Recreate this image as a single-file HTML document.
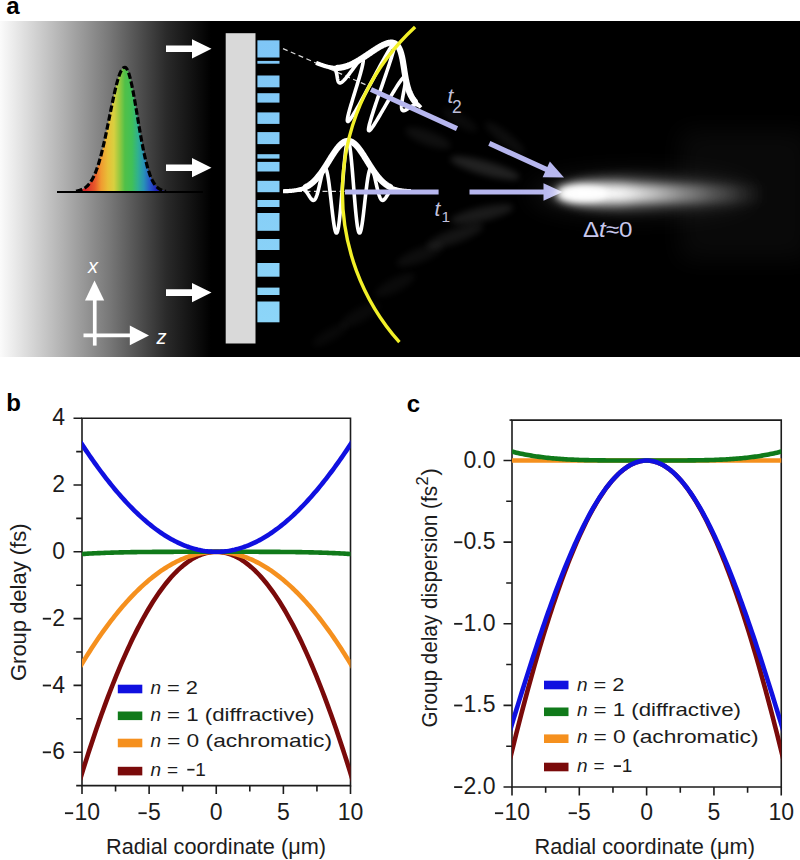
<!DOCTYPE html>
<html><head><meta charset="utf-8"><style>
html,body{margin:0;padding:0;background:#fff;overflow:hidden}
svg{display:block}
text{font-family:"Liberation Sans",sans-serif}
.tk{font-size:23px;fill:#1c1c1c}
.lg{font-size:19px;fill:#1c1c1c}
.al{font-size:22px;fill:#1c1c1c}
.pl{font-size:24px;font-weight:bold;fill:#000}
.lav{fill:#c0c0dc}
.lav2{fill:#c8c8ec}
</style></head><body>
<svg width="800" height="860" viewBox="0 0 800 860">
<defs>
<linearGradient id="bg" x1="0" x2="1" y1="0" y2="0">
<stop offset="0" stop-color="#fbfbfb"/><stop offset="0.25" stop-color="#bababa"/><stop offset="0.5" stop-color="#767676"/><stop offset="0.75" stop-color="#2a2a2a"/><stop offset="0.95" stop-color="#000"/>
</linearGradient>
<linearGradient id="rb" gradientUnits="userSpaceOnUse" x1="86" x2="157" y1="0" y2="0"><stop offset="0.000" stop-color="#d82828"/><stop offset="0.127" stop-color="#e85a2a"/><stop offset="0.211" stop-color="#f09a30"/><stop offset="0.310" stop-color="#e8c038"/><stop offset="0.394" stop-color="#d8d040"/><stop offset="0.479" stop-color="#90c840"/><stop offset="0.549" stop-color="#50c048"/><stop offset="0.648" stop-color="#40c058"/><stop offset="0.732" stop-color="#30b090"/><stop offset="0.817" stop-color="#2890b8"/><stop offset="0.901" stop-color="#2858c8"/><stop offset="1.000" stop-color="#2020b8"/></linearGradient>
<linearGradient id="bg2" gradientUnits="userSpaceOnUse" x1="0" x2="0" y1="40" y2="322"><stop offset="0" stop-color="#7fc6f6"/><stop offset="1" stop-color="#8cd5f8"/></linearGradient>
<radialGradient id="glow1" cx="0.5" cy="0.5" r="0.5">
<stop offset="0" stop-color="#fff" stop-opacity="1"/><stop offset="0.3" stop-color="#fff" stop-opacity="0.85"/><stop offset="0.6" stop-color="#fff" stop-opacity="0.35"/><stop offset="1" stop-color="#fff" stop-opacity="0"/>
</radialGradient>
<radialGradient id="glow2" cx="0.5" cy="0.5" r="0.5">
<stop offset="0" stop-color="#fff" stop-opacity="0.35"/><stop offset="0.5" stop-color="#fff" stop-opacity="0.12"/><stop offset="1" stop-color="#fff" stop-opacity="0"/>
</radialGradient>
<clipPath id="cb"><rect x="82" y="400" width="268.5" height="400"/></clipPath><clipPath id="cc"><rect x="512" y="400" width="269.25" height="400"/></clipPath>
<linearGradient id="gl" gradientUnits="userSpaceOnUse" x1="556" x2="765" y1="0" y2="0"><stop offset="0" stop-color="#fff" stop-opacity="0.9"/><stop offset="0.12" stop-color="#fff" stop-opacity="1"/><stop offset="0.3" stop-color="#fff" stop-opacity="0.92"/><stop offset="0.45" stop-color="#fff" stop-opacity="0.66"/><stop offset="0.6" stop-color="#fff" stop-opacity="0.4"/><stop offset="0.75" stop-color="#fff" stop-opacity="0.2"/><stop offset="0.88" stop-color="#fff" stop-opacity="0.08"/><stop offset="1" stop-color="#fff" stop-opacity="0"/></linearGradient>
<filter id="bl3" x="-50%" y="-100%" width="200%" height="300%"><feGaussianBlur stdDeviation="3"/></filter><filter id="bl4" x="-50%" y="-100%" width="200%" height="300%"><feGaussianBlur stdDeviation="4"/></filter><filter id="bl6" x="-50%" y="-100%" width="200%" height="300%"><feGaussianBlur stdDeviation="6"/></filter><filter id="bl12" x="-50%" y="-100%" width="200%" height="300%"><feGaussianBlur stdDeviation="12"/></filter>
<filter id="bl" x="-50%" y="-50%" width="200%" height="200%"><feGaussianBlur stdDeviation="6"/></filter>
</defs>
<rect x="0" y="21" width="800" height="336" fill="#000"/>
<rect x="0" y="21" width="222" height="336" fill="url(#bg)"/>
<ellipse cx="485" cy="168" rx="36" ry="7" fill="#fff" opacity="0.13" filter="url(#bl3)" transform="rotate(15.52 485 168)"/>
<ellipse cx="482" cy="214" rx="32" ry="7" fill="#fff" opacity="0.1" filter="url(#bl3)" transform="rotate(-12.72 482 214)"/>
<ellipse cx="455" cy="236" rx="30" ry="7" fill="#fff" opacity="0.08" filter="url(#bl3)" transform="rotate(-19.71 455 236)"/>
<ellipse cx="428" cy="138" rx="24" ry="7" fill="#fff" opacity="0.06" filter="url(#bl3)" transform="rotate(20.51 428 138)"/>
<ellipse cx="505" cy="138" rx="25" ry="6" fill="#fff" opacity="0.05" filter="url(#bl3)" transform="rotate(38.16 505 138)"/>
<ellipse cx="420" cy="255" rx="25" ry="7" fill="#fff" opacity="0.05" filter="url(#bl3)" transform="rotate(-21.8 420 255)"/>
<ellipse cx="395" cy="285" rx="22" ry="7" fill="#fff" opacity="0.04" filter="url(#bl3)" transform="rotate(-27.07 395 285)"/>
<ellipse cx="360" cy="315" rx="22" ry="7" fill="#fff" opacity="0.035" filter="url(#bl3)" transform="rotate(-29.57 360 315)"/>
<ellipse cx="330" cy="335" rx="20" ry="6" fill="#fff" opacity="0.03" filter="url(#bl3)" transform="rotate(-30.1 330 335)"/>
<ellipse cx="460" cy="120" rx="20" ry="6" fill="#fff" opacity="0.04" filter="url(#bl3)" transform="rotate(32.41 460 120)"/>
<polygon points="76,191.08 76.7,190.97 77.4,190.84 78.09,190.69 78.79,190.52 79.49,190.34 80.19,190.12 80.88,189.88 81.58,189.61 82.28,189.31 82.98,188.97 83.67,188.6 84.37,188.18 85.07,187.71 85.77,187.19 86.47,186.62 87.16,186 87.86,185.3 88.56,184.54 89.26,183.71 89.95,182.81 90.65,181.82 91.35,180.75 92.05,179.59 92.74,178.33 93.44,176.98 94.14,175.52 94.84,173.96 95.53,172.29 96.23,170.51 96.93,168.62 97.63,166.61 98.33,164.48 99.02,162.24 99.72,159.88 100.42,157.41 101.12,154.82 101.81,152.12 102.51,149.31 103.21,146.4 103.91,143.39 104.6,140.3 105.3,137.11 106,133.86 106.7,130.54 107.4,127.17 108.09,123.75 108.79,120.3 109.49,116.84 110.19,113.38 110.88,109.92 111.58,106.5 112.28,103.12 112.98,99.8 113.67,96.56 114.37,93.41 115.07,90.37 115.77,87.45 116.47,84.68 117.16,82.06 117.86,79.62 118.56,77.37 119.26,75.31 119.95,73.47 120.65,71.85 121.35,70.47 122.05,69.33 122.74,68.43 123.44,67.8 124.14,67.42 124.84,67.3 125.53,67.51 126.23,68.1 126.93,69.07 127.63,70.4 128.33,72.08 129.02,74.1 129.72,76.44 130.42,79.08 131.12,82 131.81,85.17 132.51,88.56 133.21,92.16 133.91,95.92 134.6,99.82 135.3,103.84 136,107.93 136.7,112.08 137.4,116.26 138.09,120.44 138.79,124.59 139.49,128.69 140.19,132.73 140.88,136.68 141.58,140.52 142.28,144.23 142.98,147.82 143.67,151.26 144.37,154.54 145.07,157.66 145.77,160.62 146.47,163.41 147.16,166.03 147.86,168.48 148.56,170.76 149.26,172.87 149.95,174.83 150.65,176.63 151.35,178.28 152.05,179.78 152.74,181.16 153.44,182.4 154.14,183.52 154.84,184.54 155.53,185.44 156.23,186.26 156.93,186.98 157.63,187.62 158.33,188.19 159.02,188.69 159.72,189.13 160.42,189.51 161.12,189.84 161.81,190.14 162.51,190.39 163.21,190.61 163.91,190.79 164.6,190.95 165.3,191.09 166,191.21" fill="url(#rb)"/>
<polyline points="76,191.08 76.7,190.97 77.4,190.84 78.09,190.69 78.79,190.52 79.49,190.34 80.19,190.12 80.88,189.88 81.58,189.61 82.28,189.31 82.98,188.97 83.67,188.6 84.37,188.18 85.07,187.71 85.77,187.19 86.47,186.62 87.16,186 87.86,185.3 88.56,184.54 89.26,183.71 89.95,182.81 90.65,181.82 91.35,180.75 92.05,179.59 92.74,178.33 93.44,176.98 94.14,175.52 94.84,173.96 95.53,172.29 96.23,170.51 96.93,168.62 97.63,166.61 98.33,164.48 99.02,162.24 99.72,159.88 100.42,157.41 101.12,154.82 101.81,152.12 102.51,149.31 103.21,146.4 103.91,143.39 104.6,140.3 105.3,137.11 106,133.86 106.7,130.54 107.4,127.17 108.09,123.75 108.79,120.3 109.49,116.84 110.19,113.38 110.88,109.92 111.58,106.5 112.28,103.12 112.98,99.8 113.67,96.56 114.37,93.41 115.07,90.37 115.77,87.45 116.47,84.68 117.16,82.06 117.86,79.62 118.56,77.37 119.26,75.31 119.95,73.47 120.65,71.85 121.35,70.47 122.05,69.33 122.74,68.43 123.44,67.8 124.14,67.42 124.84,67.3 125.53,67.51 126.23,68.1 126.93,69.07 127.63,70.4 128.33,72.08 129.02,74.1 129.72,76.44 130.42,79.08 131.12,82 131.81,85.17 132.51,88.56 133.21,92.16 133.91,95.92 134.6,99.82 135.3,103.84 136,107.93 136.7,112.08 137.4,116.26 138.09,120.44 138.79,124.59 139.49,128.69 140.19,132.73 140.88,136.68 141.58,140.52 142.28,144.23 142.98,147.82 143.67,151.26 144.37,154.54 145.07,157.66 145.77,160.62 146.47,163.41 147.16,166.03 147.86,168.48 148.56,170.76 149.26,172.87 149.95,174.83 150.65,176.63 151.35,178.28 152.05,179.78 152.74,181.16 153.44,182.4 154.14,183.52 154.84,184.54 155.53,185.44 156.23,186.26 156.93,186.98 157.63,187.62 158.33,188.19 159.02,188.69 159.72,189.13 160.42,189.51 161.12,189.84 161.81,190.14 162.51,190.39 163.21,190.61 163.91,190.79 164.6,190.95 165.3,191.09 166,191.21" fill="none" stroke="#000" stroke-width="3.2" stroke-dasharray="6.5 2.6"/>
<path d="M57 192H203" stroke="#000" stroke-width="2"/>
<path d="M166 45.5H192V39.2L211.5 48.8L192 58.4V52.1H166 Z" fill="#fff"/>
<path d="M166 164.4H192V158.1L211.5 167.7L192 177.3V171H166 Z" fill="#fff"/>
<path d="M166 289.3H192V283L211.5 292.6L192 302.2V295.9H166 Z" fill="#fff"/>
<rect x="225.7" y="33.2" width="29.8" height="310.3" fill="#d9d9d9"/>
<rect x="257.4" y="40.3" width="22.1" height="17.2" fill="url(#bg2)"/>
<rect x="257.4" y="60.9" width="22.1" height="2.8" fill="url(#bg2)"/>
<rect x="257.4" y="75.5" width="22.1" height="11.8" fill="url(#bg2)"/>
<rect x="257.4" y="93.2" width="22.1" height="9.4" fill="url(#bg2)"/>
<rect x="257.4" y="112.4" width="22.1" height="11.5" fill="url(#bg2)"/>
<rect x="257.4" y="132.1" width="22.1" height="12" fill="url(#bg2)"/>
<rect x="257.4" y="154.2" width="22.1" height="4.4" fill="url(#bg2)"/>
<rect x="257.4" y="161.9" width="22.1" height="9.6" fill="url(#bg2)"/>
<rect x="257.4" y="180.8" width="22.1" height="11.4" fill="url(#bg2)"/>
<rect x="257.4" y="200" width="22.1" height="7" fill="url(#bg2)"/>
<rect x="257.4" y="213" width="22.1" height="17.8" fill="url(#bg2)"/>
<rect x="257.4" y="239" width="22.1" height="11" fill="url(#bg2)"/>
<rect x="257.4" y="263" width="22.1" height="13.7" fill="url(#bg2)"/>
<rect x="257.4" y="287.6" width="22.1" height="7.4" fill="url(#bg2)"/>
<rect x="257.4" y="301.5" width="22.1" height="20.8" fill="url(#bg2)"/>
<g transform="translate(283 48.6) rotate(23.6)"><path d="M0 0H92" stroke="#d8d8d8" stroke-width="1.2" stroke-dasharray="5 3.5"/><polyline points="50,-1.34 50.25,-1.44 50.5,-1.54 50.75,-1.63 51,-1.72 51.25,-1.81 51.5,-1.89 51.75,-1.97 52.01,-2.04 52.26,-2.1 52.51,-2.16 52.76,-2.21 53.01,-2.24 53.26,-2.27 53.51,-2.29 53.76,-2.29 54.01,-2.29 54.26,-2.27 54.51,-2.23 54.76,-2.18 55.01,-2.11 55.26,-2.03 55.51,-1.93 55.76,-1.82 56.02,-1.69 56.27,-1.54 56.52,-1.37 56.77,-1.18 57.02,-0.97 57.27,-0.75 57.52,-0.51 57.77,-0.25 58.02,0.02 58.27,0.31 58.52,0.62 58.77,0.94 59.02,1.28 59.27,1.63 59.52,1.99 59.77,2.36 60.03,2.74 60.28,3.12 60.53,3.51 60.78,3.91 61.03,4.3 61.28,4.69 61.53,5.09 61.78,5.47 62.03,5.85 62.28,6.21 62.53,6.56 62.78,6.9 63.03,7.22 63.28,7.52 63.53,7.79 63.78,8.04 64.04,8.25 64.29,8.44 64.54,8.59 64.79,8.7 65.04,8.77 65.29,8.8 65.54,8.79 65.79,8.73 66.04,8.62 66.29,8.47 66.54,8.26 66.79,8 67.04,7.69 67.29,7.32 67.54,6.9 67.79,6.42 68.05,5.89 68.3,5.31 68.55,4.67 68.8,3.98 69.05,3.24 69.3,2.45 69.55,1.61 69.8,0.73 70.05,-0.19 70.3,-1.15 70.55,-2.14 70.8,-3.17 71.05,-4.22 71.3,-5.29 71.55,-6.39 71.8,-7.49 72.06,-8.6 72.31,-9.71 72.56,-10.82 72.81,-11.92 73.06,-13 73.31,-14.06 73.56,-15.09 73.81,-16.08 74.06,-17.03 74.31,-17.94 74.56,-18.78 74.81,-19.57 75.06,-20.29 75.31,-20.94 75.56,-21.51 75.81,-21.99 76.07,-22.38 76.32,-22.68 76.57,-22.88 76.82,-22.98 77.07,-22.97 77.32,-22.84 77.57,-22.61 77.82,-22.25 78.07,-21.78 78.32,-21.2 78.57,-20.49 78.82,-19.66 79.07,-18.72 79.32,-17.65 79.57,-16.48 79.82,-15.19 80.08,-13.79 80.33,-12.29 80.58,-10.69 80.83,-8.99 81.08,-7.21 81.33,-5.34 81.58,-3.4 81.83,-1.4 82.08,0.67 82.33,2.78 82.58,4.93 82.83,7.11 83.08,9.31 83.33,11.52 83.58,13.73 83.83,15.93 84.09,18.1 84.34,20.23 84.59,22.32 84.84,24.35 85.09,26.31 85.34,28.19 85.59,29.97 85.84,31.66 86.09,33.23 86.34,34.68 86.59,35.99 86.84,37.17 87.09,38.2 87.34,39.07 87.59,39.77 87.84,40.31 88.1,40.67 88.35,40.84 88.6,40.84 88.85,40.65 89.1,40.26 89.35,39.69 89.6,38.93 89.85,37.98 90.1,36.85 90.35,35.53 90.6,34.03 90.85,32.35 91.1,30.51 91.35,28.51 91.6,26.35 91.85,24.05 92.11,21.61 92.36,19.05 92.61,16.37 92.86,13.59 93.11,10.73 93.36,7.79 93.61,4.78 93.86,1.73 94.11,-1.36 94.36,-4.47 94.61,-7.58 94.86,-10.68 95.11,-13.75 95.36,-16.79 95.61,-19.77 95.86,-22.67 96.12,-25.49 96.37,-28.22 96.62,-30.83 96.87,-33.31 97.12,-35.65 97.37,-37.85 97.62,-39.88 97.87,-41.74 98.12,-43.41 98.37,-44.9 98.62,-46.19 98.87,-47.27 99.12,-48.15 99.37,-48.81 99.62,-49.25 99.87,-49.47 100.13,-49.47 100.38,-49.25 100.63,-48.81 100.88,-48.15 101.13,-47.27 101.38,-46.19 101.63,-44.9 101.88,-43.41 102.13,-41.74 102.38,-39.88 102.63,-37.85 102.88,-35.65 103.13,-33.31 103.38,-30.83 103.63,-28.22 103.88,-25.49 104.14,-22.67 104.39,-19.77 104.64,-16.79 104.89,-13.75 105.14,-10.68 105.39,-7.58 105.64,-4.47 105.89,-1.36 106.14,1.73 106.39,4.78 106.64,7.79 106.89,10.73 107.14,13.59 107.39,16.37 107.64,19.05 107.89,21.61 108.15,24.05 108.4,26.35 108.65,28.51 108.9,30.51 109.15,32.35 109.4,34.03 109.65,35.53 109.9,36.85 110.15,37.98 110.4,38.93 110.65,39.69 110.9,40.26 111.15,40.65 111.4,40.84 111.65,40.84 111.9,40.67 112.16,40.31 112.41,39.77 112.66,39.07 112.91,38.2 113.16,37.17 113.41,35.99 113.66,34.68 113.91,33.23 114.16,31.66 114.41,29.97 114.66,28.19 114.91,26.31 115.16,24.35 115.41,22.32 115.66,20.23 115.91,18.1 116.17,15.93 116.42,13.73 116.67,11.52 116.92,9.31 117.17,7.11 117.42,4.93 117.67,2.78 117.92,0.67 118.17,-1.4 118.42,-3.4 118.67,-5.34 118.92,-7.21 119.17,-8.99 119.42,-10.69 119.67,-12.29 119.92,-13.79 120.18,-15.19 120.43,-16.48 120.68,-17.65 120.93,-18.72 121.18,-19.66 121.43,-20.49 121.68,-21.2 121.93,-21.78 122.18,-22.25 122.43,-22.61 122.68,-22.84 122.93,-22.97 123.18,-22.98 123.43,-22.88 123.68,-22.68 123.93,-22.38 124.19,-21.99 124.44,-21.51 124.69,-20.94 124.94,-20.29 125.19,-19.57 125.44,-18.78 125.69,-17.94 125.94,-17.03 126.19,-16.08 126.44,-15.09 126.69,-14.06 126.94,-13 127.19,-11.92 127.44,-10.82 127.69,-9.71 127.94,-8.6 128.2,-7.49 128.45,-6.39 128.7,-5.29 128.95,-4.22 129.2,-3.17 129.45,-2.14 129.7,-1.15 129.95,-0.19 130.2,0.73 130.45,1.61 130.7,2.45 130.95,3.24 131.2,3.98 131.45,4.67 131.7,5.31 131.95,5.89 132.21,6.42 132.46,6.9 132.71,7.32 132.96,7.69 133.21,8 133.46,8.26 133.71,8.47 133.96,8.62 134.21,8.73 134.46,8.79 134.71,8.8 134.96,8.77 135.21,8.7 135.46,8.59 135.71,8.44 135.96,8.25 136.22,8.04 136.47,7.79 136.72,7.52 136.97,7.22 137.22,6.9 137.47,6.56 137.72,6.21 137.97,5.85 138.22,5.47 138.47,5.09 138.72,4.69 138.97,4.3 139.22,3.91 139.47,3.51 139.72,3.12 139.97,2.74 140.23,2.36 140.48,1.99 140.73,1.63 140.98,1.28 141.23,0.94 141.48,0.62 141.73,0.31 141.98,0.02 142.23,-0.25 142.48,-0.51 142.73,-0.75 142.98,-0.97 143.23,-1.18 143.48,-1.37 143.73,-1.54 143.98,-1.69 144.24,-1.82 144.49,-1.93 144.74,-2.03 144.99,-2.11 145.24,-2.18 145.49,-2.23 145.74,-2.27 145.99,-2.29 146.24,-2.29 146.49,-2.29 146.74,-2.27 146.99,-2.24 147.24,-2.21 147.49,-2.16 147.74,-2.1 147.99,-2.04 148.25,-1.97 148.5,-1.89 148.75,-1.81 149,-1.72 149.25,-1.63 149.5,-1.54 149.75,-1.44 150,-1.34" fill="none" stroke="#fff" stroke-width="3.6" stroke-linejoin="round"/><polyline points="36,-0.17 36.37,-0.18 36.75,-0.19 37.12,-0.21 37.5,-0.22 37.87,-0.24 38.25,-0.25 38.62,-0.27 39,-0.29 39.37,-0.3 39.75,-0.32 40.12,-0.35 40.49,-0.37 40.87,-0.39 41.24,-0.41 41.62,-0.44 41.99,-0.47 42.37,-0.5 42.74,-0.53 43.12,-0.56 43.49,-0.59 43.87,-0.63 44.24,-0.67 44.62,-0.71 44.99,-0.75 45.36,-0.79 45.74,-0.84 46.11,-0.89 46.49,-0.94 46.86,-0.99 47.24,-1.05 47.61,-1.11 47.99,-1.17 48.36,-1.23 48.74,-1.3 49.11,-1.37 49.48,-1.44 49.86,-1.52 50.23,-1.6 50.61,-1.69 50.98,-1.78 51.36,-1.87 51.73,-1.96 52.11,-2.06 52.48,-2.17 52.86,-2.28 53.23,-2.39 53.61,-2.51 53.98,-2.63 54.35,-2.76 54.73,-2.9 55.1,-3.03 55.48,-3.18 55.85,-3.33 56.23,-3.48 56.6,-3.65 56.98,-3.81 57.35,-3.99 57.73,-4.17 58.1,-4.35 58.47,-4.54 58.85,-4.74 59.22,-4.95 59.6,-5.16 59.97,-5.38 60.35,-5.61 60.72,-5.84 61.1,-6.08 61.47,-6.33 61.85,-6.59 62.22,-6.86 62.6,-7.13 62.97,-7.41 63.34,-7.7 63.72,-8 64.09,-8.3 64.47,-8.61 64.84,-8.94 65.22,-9.27 65.59,-9.6 65.97,-9.95 66.34,-10.31 66.72,-10.67 67.09,-11.04 67.46,-11.43 67.84,-11.82 68.21,-12.21 68.59,-12.62 68.96,-13.04 69.34,-13.46 69.71,-13.89 70.09,-14.33 70.46,-14.78 70.84,-15.24 71.21,-15.71 71.59,-16.18 71.96,-16.66 72.33,-17.15 72.71,-17.64 73.08,-18.15 73.46,-18.66 73.83,-19.17 74.21,-19.7 74.58,-20.23 74.96,-20.77 75.33,-21.31 75.71,-21.86 76.08,-22.41 76.45,-22.97 76.83,-23.53 77.2,-24.1 77.58,-24.67 77.95,-25.25 78.33,-25.83 78.7,-26.41 79.08,-26.99 79.45,-27.58 79.83,-28.17 80.2,-28.76 80.58,-29.35 80.95,-29.94 81.32,-30.54 81.7,-31.13 82.07,-31.72 82.45,-32.31 82.82,-32.89 83.2,-33.48 83.57,-34.06 83.95,-34.64 84.32,-35.22 84.7,-35.79 85.07,-36.35 85.44,-36.91 85.82,-37.47 86.19,-38.01 86.57,-38.56 86.94,-39.09 87.32,-39.61 87.69,-40.13 88.07,-40.64 88.44,-41.14 88.82,-41.63 89.19,-42.1 89.57,-42.57 89.94,-43.03 90.31,-43.47 90.69,-43.9 91.06,-44.32 91.44,-44.72 91.81,-45.11 92.19,-45.49 92.56,-45.85 92.94,-46.19 93.31,-46.53 93.69,-46.84 94.06,-47.14 94.43,-47.42 94.81,-47.69 95.18,-47.94 95.56,-48.17 95.93,-48.38 96.31,-48.57 96.68,-48.75 97.06,-48.91 97.43,-49.05 97.81,-49.17 98.18,-49.27 98.56,-49.36 98.93,-49.42 99.3,-49.47 99.68,-49.49 100.05,-49.5 100.43,-49.49 100.8,-49.46 101.18,-49.41 101.55,-49.34 101.93,-49.25 102.3,-49.14 102.68,-49.01 103.05,-48.87 103.42,-48.7 103.8,-48.52 104.17,-48.32 104.55,-48.1 104.92,-47.87 105.3,-47.61 105.67,-47.34 106.05,-47.06 106.42,-46.75 106.8,-46.43 107.17,-46.1 107.55,-45.75 107.92,-45.38 108.29,-45 108.67,-44.61 109.04,-44.2 109.42,-43.78 109.79,-43.34 110.17,-42.9 110.54,-42.44 110.92,-41.97 111.29,-41.49 111.67,-41 112.04,-40.5 112.41,-39.98 112.79,-39.47 113.16,-38.94 113.54,-38.4 113.91,-37.86 114.29,-37.31 114.66,-36.75 115.04,-36.19 115.41,-35.62 115.79,-35.05 116.16,-34.48 116.54,-33.9 116.91,-33.31 117.28,-32.73 117.66,-32.14 118.03,-31.55 118.41,-30.96 118.78,-30.37 119.16,-29.77 119.53,-29.18 119.91,-28.59 120.28,-28 120.66,-27.41 121.03,-26.83 121.4,-26.24 121.78,-25.66 122.15,-25.08 122.53,-24.51 122.9,-23.94 123.28,-23.37 123.65,-22.81 124.03,-22.25 124.4,-21.7 124.78,-21.15 125.15,-20.61 125.53,-20.08 125.9,-19.55 126.27,-19.03 126.65,-18.51 127.02,-18 127.4,-17.5 127.77,-17.01 128.15,-16.52 128.52,-16.04 128.9,-15.57 129.27,-15.11 129.65,-14.65 130.02,-14.21 130.39,-13.77 130.77,-13.34 131.14,-12.92 131.52,-12.5 131.89,-12.1 132.27,-11.7 132.64,-11.32 133.02,-10.94 133.39,-10.57 133.77,-10.2 134.14,-9.85 134.52,-9.51 134.89,-9.17 135.26,-8.84 135.64,-8.52 136.01,-8.21 136.39,-7.91 136.76,-7.61 137.14,-7.33 137.51,-7.05 137.89,-6.78 138.26,-6.52 138.64,-6.26 139.01,-6.01 139.38,-5.78 139.76,-5.54 140.13,-5.32 140.51,-5.1 140.88,-4.89 141.26,-4.69 141.63,-4.49 142.01,-4.3 142.38,-4.11 142.76,-3.94 143.13,-3.76 143.51,-3.6 143.88,-3.44 144.25,-3.29 144.63,-3.14 145,-2.99 145.38,-2.86 145.75,-2.73 146.13,-2.6 146.5,-2.48 146.88,-2.36 147.25,-2.25 147.63,-2.14 148,-2.04" fill="none" stroke="#fff" stroke-width="4.2" stroke-linejoin="round" stroke-linecap="butt"/><polyline points="58,-4.3 58.42,-4.52 58.84,-4.74 59.27,-4.97 59.69,-5.21 60.11,-5.46 60.53,-5.72 60.95,-5.99 61.38,-6.27 61.8,-6.56 62.22,-6.86 62.64,-7.16 63.07,-7.48 63.49,-7.81 63.91,-8.15 64.33,-8.5 64.75,-8.86 65.18,-9.23 65.6,-9.61 66.02,-10 66.44,-10.4 66.86,-10.82 67.29,-11.24 67.71,-11.68 68.13,-12.12 68.55,-12.58 68.97,-13.05 69.4,-13.53 69.82,-14.02 70.24,-14.52 70.66,-15.03 71.09,-15.55 71.51,-16.08 71.93,-16.62 72.35,-17.17 72.77,-17.73 73.2,-18.3 73.62,-18.88 74.04,-19.46 74.46,-20.06 74.88,-20.66 75.31,-21.27 75.73,-21.89 76.15,-22.51 76.57,-23.15 76.99,-23.78 77.42,-24.43 77.84,-25.07 78.26,-25.72 78.68,-26.38 79.11,-27.04 79.53,-27.7 79.95,-28.37 80.37,-29.03 80.79,-29.7 81.22,-30.36 81.64,-31.03 82.06,-31.7 82.48,-32.36 82.9,-33.02 83.33,-33.68 83.75,-34.34 84.17,-34.99 84.59,-35.63 85.02,-36.27 85.44,-36.9 85.86,-37.53 86.28,-38.14 86.7,-38.75 87.13,-39.35 87.55,-39.93 87.97,-40.51 88.39,-41.07 88.81,-41.62 89.24,-42.16 89.66,-42.68 90.08,-43.19 90.5,-43.69 90.92,-44.16 91.35,-44.62 91.77,-45.07 92.19,-45.49 92.61,-45.9 93.04,-46.28 93.46,-46.65 93.88,-47 94.3,-47.32 94.72,-47.63 95.15,-47.91 95.57,-48.17 95.99,-48.41 96.41,-48.63 96.83,-48.82 97.26,-48.99 97.68,-49.13 98.1,-49.25 98.52,-49.35 98.94,-49.42 99.37,-49.47 99.79,-49.5 100.21,-49.5 100.63,-49.47 101.06,-49.42 101.48,-49.35 101.9,-49.25 102.32,-49.13 102.74,-48.99 103.17,-48.82 103.59,-48.63 104.01,-48.41 104.43,-48.17 104.85,-47.91 105.28,-47.63 105.7,-47.32 106.12,-47 106.54,-46.65 106.96,-46.28 107.39,-45.9 107.81,-45.49 108.23,-45.07 108.65,-44.62 109.08,-44.16 109.5,-43.69 109.92,-43.19 110.34,-42.68 110.76,-42.16 111.19,-41.62 111.61,-41.07 112.03,-40.51 112.45,-39.93 112.87,-39.35 113.3,-38.75 113.72,-38.14 114.14,-37.53 114.56,-36.9 114.98,-36.27 115.41,-35.63 115.83,-34.99 116.25,-34.34 116.67,-33.68 117.1,-33.02 117.52,-32.36 117.94,-31.7 118.36,-31.03 118.78,-30.36 119.21,-29.7 119.63,-29.03 120.05,-28.37 120.47,-27.7 120.89,-27.04 121.32,-26.38 121.74,-25.72 122.16,-25.07 122.58,-24.43 123.01,-23.78 123.43,-23.15 123.85,-22.51 124.27,-21.89 124.69,-21.27 125.12,-20.66 125.54,-20.06 125.96,-19.46 126.38,-18.88 126.8,-18.3 127.23,-17.73 127.65,-17.17 128.07,-16.62 128.49,-16.08 128.91,-15.55 129.34,-15.03 129.76,-14.52 130.18,-14.02 130.6,-13.53 131.03,-13.05 131.45,-12.58 131.87,-12.12 132.29,-11.68 132.71,-11.24 133.14,-10.82 133.56,-10.4 133.98,-10 134.4,-9.61 134.82,-9.23 135.25,-8.86 135.67,-8.5 136.09,-8.15 136.51,-7.81 136.93,-7.48 137.36,-7.16 137.78,-6.86 138.2,-6.56 138.62,-6.27 139.05,-5.99 139.47,-5.72 139.89,-5.46 140.31,-5.21 140.73,-4.97 141.16,-4.74 141.58,-4.52 142,-4.3" fill="none" stroke="#fff" stroke-width="6.2" stroke-linejoin="round" stroke-linecap="round"/></g>
<g transform="translate(283 191.4) rotate(0)"><path d="M14 0H62" stroke="#d8d8d8" stroke-width="1.2" stroke-dasharray="5 3.5"/><polyline points="15,-1.37 15.25,-1.47 15.5,-1.57 15.75,-1.66 16,-1.75 16.25,-1.84 16.5,-1.93 16.75,-2.01 17.01,-2.08 17.26,-2.14 17.51,-2.2 17.76,-2.25 18.01,-2.29 18.26,-2.32 18.51,-2.34 18.76,-2.34 19.01,-2.33 19.26,-2.31 19.51,-2.28 19.76,-2.22 20.01,-2.16 20.26,-2.07 20.51,-1.97 20.76,-1.86 21.02,-1.72 21.27,-1.57 21.52,-1.39 21.77,-1.2 22.02,-0.99 22.27,-0.77 22.52,-0.52 22.77,-0.26 23.02,0.02 23.27,0.32 23.52,0.63 23.77,0.96 24.02,1.31 24.27,1.66 24.52,2.03 24.77,2.41 25.03,2.79 25.28,3.19 25.53,3.58 25.78,3.99 26.03,4.39 26.28,4.79 26.53,5.19 26.78,5.58 27.03,5.96 27.28,6.34 27.53,6.7 27.78,7.04 28.03,7.37 28.28,7.67 28.53,7.95 28.78,8.2 29.04,8.42 29.29,8.61 29.54,8.76 29.79,8.87 30.04,8.95 30.29,8.98 30.54,8.97 30.79,8.91 31.04,8.8 31.29,8.64 31.54,8.43 31.79,8.16 32.04,7.84 32.29,7.47 32.54,7.04 32.79,6.55 33.05,6.01 33.3,5.42 33.55,4.77 33.8,4.06 34.05,3.31 34.3,2.5 34.55,1.65 34.8,0.75 35.05,-0.19 35.3,-1.17 35.55,-2.19 35.8,-3.23 36.05,-4.31 36.3,-5.4 36.55,-6.51 36.8,-7.64 37.06,-8.77 37.31,-9.91 37.56,-11.04 37.81,-12.16 38.06,-13.26 38.31,-14.34 38.56,-15.39 38.81,-16.41 39.06,-17.38 39.31,-18.3 39.56,-19.16 39.81,-19.97 40.06,-20.7 40.31,-21.36 40.56,-21.94 40.81,-22.44 41.07,-22.84 41.32,-23.14 41.57,-23.34 41.82,-23.44 42.07,-23.43 42.32,-23.3 42.57,-23.06 42.82,-22.7 43.07,-22.22 43.32,-21.62 43.57,-20.9 43.82,-20.06 44.07,-19.09 44.32,-18.01 44.57,-16.81 44.82,-15.5 45.08,-14.07 45.33,-12.54 45.58,-10.9 45.83,-9.17 46.08,-7.35 46.33,-5.45 46.58,-3.47 46.83,-1.43 47.08,0.68 47.33,2.83 47.58,5.03 47.83,7.26 48.08,9.5 48.33,11.76 48.58,14.01 48.83,16.25 49.09,18.46 49.34,20.64 49.59,22.77 49.84,24.84 50.09,26.84 50.34,28.76 50.59,30.58 50.84,32.3 51.09,33.9 51.34,35.38 51.59,36.72 51.84,37.92 52.09,38.97 52.34,39.86 52.59,40.57 52.84,41.12 53.1,41.49 53.35,41.67 53.6,41.66 53.85,41.47 54.1,41.08 54.35,40.5 54.6,39.72 54.85,38.75 55.1,37.59 55.35,36.24 55.6,34.72 55.85,33.01 56.1,31.13 56.35,29.08 56.6,26.88 56.85,24.53 57.11,22.05 57.36,19.43 57.61,16.7 57.86,13.87 58.11,10.94 58.36,7.94 58.61,4.88 58.86,1.76 59.11,-1.39 59.36,-4.56 59.61,-7.73 59.86,-10.9 60.11,-14.03 60.36,-17.13 60.61,-20.17 60.86,-23.13 61.12,-26.01 61.37,-28.79 61.62,-31.45 61.87,-33.98 62.12,-36.37 62.37,-38.61 62.62,-40.68 62.87,-42.58 63.12,-44.29 63.37,-45.81 63.62,-47.12 63.87,-48.23 64.12,-49.12 64.37,-49.8 64.62,-50.25 64.87,-50.47 65.13,-50.47 65.38,-50.25 65.63,-49.8 65.88,-49.12 66.13,-48.23 66.38,-47.12 66.63,-45.81 66.88,-44.29 67.13,-42.58 67.38,-40.68 67.63,-38.61 67.88,-36.37 68.13,-33.98 68.38,-31.45 68.63,-28.79 68.88,-26.01 69.14,-23.13 69.39,-20.17 69.64,-17.13 69.89,-14.03 70.14,-10.9 70.39,-7.73 70.64,-4.56 70.89,-1.39 71.14,1.76 71.39,4.88 71.64,7.94 71.89,10.94 72.14,13.87 72.39,16.7 72.64,19.43 72.89,22.05 73.15,24.53 73.4,26.88 73.65,29.08 73.9,31.13 74.15,33.01 74.4,34.72 74.65,36.24 74.9,37.59 75.15,38.75 75.4,39.72 75.65,40.5 75.9,41.08 76.15,41.47 76.4,41.66 76.65,41.67 76.9,41.49 77.16,41.12 77.41,40.57 77.66,39.86 77.91,38.97 78.16,37.92 78.41,36.72 78.66,35.38 78.91,33.9 79.16,32.3 79.41,30.58 79.66,28.76 79.91,26.84 80.16,24.84 80.41,22.77 80.66,20.64 80.91,18.46 81.17,16.25 81.42,14.01 81.67,11.76 81.92,9.5 82.17,7.26 82.42,5.03 82.67,2.83 82.92,0.68 83.17,-1.43 83.42,-3.47 83.67,-5.45 83.92,-7.35 84.17,-9.17 84.42,-10.9 84.67,-12.54 84.92,-14.07 85.18,-15.5 85.43,-16.81 85.68,-18.01 85.93,-19.09 86.18,-20.06 86.43,-20.9 86.68,-21.62 86.93,-22.22 87.18,-22.7 87.43,-23.06 87.68,-23.3 87.93,-23.43 88.18,-23.44 88.43,-23.34 88.68,-23.14 88.93,-22.84 89.19,-22.44 89.44,-21.94 89.69,-21.36 89.94,-20.7 90.19,-19.97 90.44,-19.16 90.69,-18.3 90.94,-17.38 91.19,-16.41 91.44,-15.39 91.69,-14.34 91.94,-13.26 92.19,-12.16 92.44,-11.04 92.69,-9.91 92.94,-8.77 93.2,-7.64 93.45,-6.51 93.7,-5.4 93.95,-4.31 94.2,-3.23 94.45,-2.19 94.7,-1.17 94.95,-0.19 95.2,0.75 95.45,1.65 95.7,2.5 95.95,3.31 96.2,4.06 96.45,4.77 96.7,5.42 96.95,6.01 97.21,6.55 97.46,7.04 97.71,7.47 97.96,7.84 98.21,8.16 98.46,8.43 98.71,8.64 98.96,8.8 99.21,8.91 99.46,8.97 99.71,8.98 99.96,8.95 100.21,8.87 100.46,8.76 100.71,8.61 100.96,8.42 101.22,8.2 101.47,7.95 101.72,7.67 101.97,7.37 102.22,7.04 102.47,6.7 102.72,6.34 102.97,5.96 103.22,5.58 103.47,5.19 103.72,4.79 103.97,4.39 104.22,3.99 104.47,3.58 104.72,3.19 104.97,2.79 105.23,2.41 105.48,2.03 105.73,1.66 105.98,1.31 106.23,0.96 106.48,0.63 106.73,0.32 106.98,0.02 107.23,-0.26 107.48,-0.52 107.73,-0.77 107.98,-0.99 108.23,-1.2 108.48,-1.39 108.73,-1.57 108.98,-1.72 109.24,-1.86 109.49,-1.97 109.74,-2.07 109.99,-2.16 110.24,-2.22 110.49,-2.28 110.74,-2.31 110.99,-2.33 111.24,-2.34 111.49,-2.34 111.74,-2.32 111.99,-2.29 112.24,-2.25 112.49,-2.2 112.74,-2.14 112.99,-2.08 113.25,-2.01 113.5,-1.93 113.75,-1.84 114,-1.75 114.25,-1.66 114.5,-1.57 114.75,-1.47 115,-1.37" fill="none" stroke="#fff" stroke-width="3.6" stroke-linejoin="round"/><polyline points="0,-0.15 0.43,-0.16 0.86,-0.17 1.28,-0.18 1.71,-0.2 2.14,-0.21 2.57,-0.23 3,-0.25 3.42,-0.26 3.85,-0.28 4.28,-0.31 4.71,-0.33 5.14,-0.35 5.57,-0.38 5.99,-0.41 6.42,-0.44 6.85,-0.47 7.28,-0.5 7.71,-0.54 8.13,-0.57 8.56,-0.61 8.99,-0.66 9.42,-0.7 9.85,-0.75 10.27,-0.8 10.7,-0.85 11.13,-0.91 11.56,-0.97 11.99,-1.03 12.41,-1.1 12.84,-1.17 13.27,-1.24 13.7,-1.32 14.13,-1.4 14.56,-1.49 14.98,-1.58 15.41,-1.68 15.84,-1.78 16.27,-1.88 16.7,-1.99 17.12,-2.11 17.55,-2.23 17.98,-2.36 18.41,-2.5 18.84,-2.64 19.26,-2.79 19.69,-2.94 20.12,-3.1 20.55,-3.27 20.98,-3.45 21.4,-3.63 21.83,-3.82 22.26,-4.02 22.69,-4.23 23.12,-4.45 23.55,-4.67 23.97,-4.91 24.4,-5.15 24.83,-5.4 25.26,-5.67 25.69,-5.94 26.11,-6.22 26.54,-6.51 26.97,-6.81 27.4,-7.13 27.83,-7.45 28.25,-7.78 28.68,-8.13 29.11,-8.48 29.54,-8.85 29.97,-9.23 30.39,-9.62 30.82,-10.02 31.25,-10.43 31.68,-10.85 32.11,-11.28 32.54,-11.73 32.96,-12.19 33.39,-12.66 33.82,-13.14 34.25,-13.63 34.68,-14.13 35.1,-14.64 35.53,-15.17 35.96,-15.7 36.39,-16.25 36.82,-16.81 37.24,-17.37 37.67,-17.95 38.1,-18.54 38.53,-19.13 38.96,-19.74 39.38,-20.35 39.81,-20.97 40.24,-21.6 40.67,-22.24 41.1,-22.89 41.53,-23.54 41.95,-24.2 42.38,-24.86 42.81,-25.53 43.24,-26.21 43.67,-26.88 44.09,-27.57 44.52,-28.25 44.95,-28.94 45.38,-29.63 45.81,-30.32 46.23,-31.01 46.66,-31.7 47.09,-32.39 47.52,-33.07 47.95,-33.76 48.37,-34.44 48.8,-35.11 49.23,-35.79 49.66,-36.45 50.09,-37.11 50.52,-37.76 50.94,-38.41 51.37,-39.04 51.8,-39.67 52.23,-40.29 52.66,-40.89 53.08,-41.48 53.51,-42.06 53.94,-42.63 54.37,-43.18 54.8,-43.72 55.22,-44.24 55.65,-44.74 56.08,-45.23 56.51,-45.7 56.94,-46.15 57.36,-46.58 57.79,-46.99 58.22,-47.39 58.65,-47.76 59.08,-48.1 59.51,-48.43 59.93,-48.74 60.36,-49.02 60.79,-49.27 61.22,-49.51 61.65,-49.72 62.07,-49.9 62.5,-50.07 62.93,-50.2 63.36,-50.31 63.79,-50.4 64.21,-50.46 64.64,-50.49 65.07,-50.5 65.5,-50.48 65.93,-50.44 66.35,-50.37 66.78,-50.28 67.21,-50.16 67.64,-50.02 68.07,-49.85 68.49,-49.65 68.92,-49.43 69.35,-49.19 69.78,-48.93 70.21,-48.64 70.64,-48.33 71.06,-47.99 71.49,-47.64 71.92,-47.26 72.35,-46.86 72.78,-46.44 73.2,-46.01 73.63,-45.55 74.06,-45.07 74.49,-44.58 74.92,-44.07 75.34,-43.54 75.77,-43 76.2,-42.45 76.63,-41.87 77.06,-41.29 77.48,-40.69 77.91,-40.09 78.34,-39.47 78.77,-38.84 79.2,-38.2 79.63,-37.55 80.05,-36.9 80.48,-36.23 80.91,-35.57 81.34,-34.89 81.77,-34.21 82.19,-33.53 82.62,-32.85 83.05,-32.16 83.48,-31.47 83.91,-30.78 84.33,-30.09 84.76,-29.4 85.19,-28.71 85.62,-28.03 86.05,-27.34 86.47,-26.66 86.9,-25.98 87.33,-25.31 87.76,-24.64 88.19,-23.98 88.62,-23.33 89.04,-22.68 89.47,-22.03 89.9,-21.4 90.33,-20.77 90.76,-20.15 91.18,-19.54 91.61,-18.94 92.04,-18.34 92.47,-17.76 92.9,-17.19 93.32,-16.62 93.75,-16.07 94.18,-15.53 94.61,-15 95.04,-14.47 95.46,-13.96 95.89,-13.47 96.32,-12.98 96.75,-12.5 97.18,-12.04 97.61,-11.58 98.03,-11.14 98.46,-10.71 98.89,-10.29 99.32,-9.88 99.75,-9.49 100.17,-9.1 100.6,-8.73 101.03,-8.36 101.46,-8.01 101.89,-7.67 102.31,-7.34 102.74,-7.02 103.17,-6.71 103.6,-6.41 104.03,-6.13 104.45,-5.85 104.88,-5.58 105.31,-5.32 105.74,-5.07 106.17,-4.83 106.6,-4.6 107.02,-4.38 107.45,-4.16 107.88,-3.96 108.31,-3.76 108.74,-3.57 109.16,-3.39 109.59,-3.22 110.02,-3.05 110.45,-2.89 110.88,-2.74 111.3,-2.59 111.73,-2.45 112.16,-2.32 112.59,-2.19 113.02,-2.07 113.44,-1.96 113.87,-1.85 114.3,-1.74 114.73,-1.64 115.16,-1.55 115.59,-1.46 116.01,-1.37 116.44,-1.29 116.87,-1.22 117.3,-1.14 117.73,-1.07 118.15,-1.01 118.58,-0.95 119.01,-0.89 119.44,-0.83 119.87,-0.78 120.29,-0.73 120.72,-0.68 121.15,-0.64 121.58,-0.6 122.01,-0.56 122.43,-0.52 122.86,-0.49 123.29,-0.46 123.72,-0.43 124.15,-0.4 124.58,-0.37 125,-0.34 125.43,-0.32 125.86,-0.3 126.29,-0.28 126.72,-0.26 127.14,-0.24 127.57,-0.22 128,-0.21" fill="none" stroke="#fff" stroke-width="4.2" stroke-linejoin="round" stroke-linecap="butt"/><polyline points="23,-4.39 23.42,-4.61 23.84,-4.84 24.27,-5.07 24.69,-5.32 25.11,-5.57 25.53,-5.84 25.95,-6.11 26.38,-6.4 26.8,-6.69 27.22,-6.99 27.64,-7.31 28.07,-7.63 28.49,-7.97 28.91,-8.31 29.33,-8.67 29.75,-9.04 30.18,-9.42 30.6,-9.8 31.02,-10.2 31.44,-10.61 31.86,-11.04 32.29,-11.47 32.71,-11.91 33.13,-12.37 33.55,-12.84 33.97,-13.31 34.4,-13.8 34.82,-14.3 35.24,-14.81 35.66,-15.33 36.09,-15.86 36.51,-16.4 36.93,-16.96 37.35,-17.52 37.77,-18.09 38.2,-18.67 38.62,-19.26 39.04,-19.86 39.46,-20.46 39.88,-21.08 40.31,-21.7 40.73,-22.33 41.15,-22.97 41.57,-23.61 41.99,-24.26 42.42,-24.92 42.84,-25.58 43.26,-26.24 43.68,-26.91 44.11,-27.59 44.53,-28.26 44.95,-28.94 45.37,-29.62 45.79,-30.3 46.22,-30.98 46.64,-31.66 47.06,-32.34 47.48,-33.01 47.9,-33.69 48.33,-34.36 48.75,-35.03 49.17,-35.69 49.59,-36.35 50.02,-37 50.44,-37.65 50.86,-38.28 51.28,-38.91 51.7,-39.53 52.13,-40.14 52.55,-40.74 52.97,-41.33 53.39,-41.9 53.81,-42.46 54.24,-43.01 54.66,-43.55 55.08,-44.07 55.5,-44.57 55.92,-45.06 56.35,-45.53 56.77,-45.98 57.19,-46.41 57.61,-46.82 58.04,-47.22 58.46,-47.59 58.88,-47.95 59.3,-48.28 59.72,-48.59 60.15,-48.88 60.57,-49.14 60.99,-49.39 61.41,-49.61 61.83,-49.8 62.26,-49.98 62.68,-50.12 63.1,-50.25 63.52,-50.35 63.94,-50.42 64.37,-50.47 64.79,-50.5 65.21,-50.5 65.63,-50.47 66.06,-50.42 66.48,-50.35 66.9,-50.25 67.32,-50.12 67.74,-49.98 68.17,-49.8 68.59,-49.61 69.01,-49.39 69.43,-49.14 69.85,-48.88 70.28,-48.59 70.7,-48.28 71.12,-47.95 71.54,-47.59 71.96,-47.22 72.39,-46.82 72.81,-46.41 73.23,-45.98 73.65,-45.53 74.08,-45.06 74.5,-44.57 74.92,-44.07 75.34,-43.55 75.76,-43.01 76.19,-42.46 76.61,-41.9 77.03,-41.33 77.45,-40.74 77.87,-40.14 78.3,-39.53 78.72,-38.91 79.14,-38.28 79.56,-37.65 79.98,-37 80.41,-36.35 80.83,-35.69 81.25,-35.03 81.67,-34.36 82.1,-33.69 82.52,-33.01 82.94,-32.34 83.36,-31.66 83.78,-30.98 84.21,-30.3 84.63,-29.62 85.05,-28.94 85.47,-28.26 85.89,-27.59 86.32,-26.91 86.74,-26.24 87.16,-25.58 87.58,-24.92 88.01,-24.26 88.43,-23.61 88.85,-22.97 89.27,-22.33 89.69,-21.7 90.12,-21.08 90.54,-20.46 90.96,-19.86 91.38,-19.26 91.8,-18.67 92.23,-18.09 92.65,-17.52 93.07,-16.96 93.49,-16.4 93.91,-15.86 94.34,-15.33 94.76,-14.81 95.18,-14.3 95.6,-13.8 96.03,-13.31 96.45,-12.84 96.87,-12.37 97.29,-11.91 97.71,-11.47 98.14,-11.04 98.56,-10.61 98.98,-10.2 99.4,-9.8 99.82,-9.42 100.25,-9.04 100.67,-8.67 101.09,-8.31 101.51,-7.97 101.93,-7.63 102.36,-7.31 102.78,-6.99 103.2,-6.69 103.62,-6.4 104.05,-6.11 104.47,-5.84 104.89,-5.57 105.31,-5.32 105.73,-5.07 106.16,-4.84 106.58,-4.61 107,-4.39" fill="none" stroke="#fff" stroke-width="6.2" stroke-linejoin="round" stroke-linecap="round"/></g>
<g transform="translate(371 89.5) rotate(24.49)" fill="#b6b6ee"><rect x="0" y="-2.6" width="94.5" height="5.2"/><rect x="130" y="-2.6" width="65.07" height="5.2"/><path d="M192.57 -8.7L212.07 0L192.57 8.7Z"/></g>
<g transform="translate(345 192) rotate(0)" fill="#b6b6ee"><rect x="0" y="-2.5" width="93.6" height="5.0"/><rect x="124.5" y="-2.5" width="76.5" height="5.0"/><path d="M198.5 -8.8L217.5 0L198.5 8.8Z"/></g>
<path d="M415.1 26.88A225 225 0 0 0 399.41 342.18" fill="none" stroke="#f2f028" stroke-width="3.4"/>
<rect x="680" y="130" width="130" height="130" fill="#fff" opacity="0.035" filter="url(#bl12)"/>
<ellipse cx="640" cy="194" rx="110" ry="22" fill="#fff" opacity="0.07" filter="url(#bl12)"/>
<path d="M565 193.5C565 182 590 178 630 177L760 180V208L630 210C590 209 565 205 565 193.5Z" fill="url(#gl)" opacity="0.4" filter="url(#bl6)"/>
<path d="M556 193.5C556 183 578 184 605 185L765 185.5V203L605 202C578 203 556 204 556 193.5Z" fill="url(#gl)" filter="url(#bl4)"/>
<ellipse cx="584" cy="193.5" rx="24" ry="6" fill="#fff" filter="url(#bl3)"/><ellipse cx="592" cy="193.5" rx="45" ry="14" fill="#fff" opacity="0.14" filter="url(#bl6)"/>
<text x="447.5" y="102.8" class="lav" font-style="italic" font-size="21">t</text><text x="452" y="113.2" class="lav" font-size="17.5">2</text>
<text x="434.5" y="215.6" class="lav" font-style="italic" font-size="21">t</text><text x="441.5" y="222.2" class="lav" font-size="15.5">1</text>
<text x="583" y="236.6" class="lav2" font-size="22" textLength="49.5" lengthAdjust="spacingAndGlyphs">&#916;<tspan font-style="italic">t</tspan>&#8776;0</text>
<path d="M94.75 345.6V299" stroke="#fff" stroke-width="3.7"/><path d="M85 300.5L94.5 280.5L104.2 300.5Z" fill="#fff"/>
<path d="M83.5 335.4H131" stroke="#fff" stroke-width="3.7"/><path d="M129.8 325.6L149 335.4L129.8 345.2Z" fill="#fff"/>
<text x="88" y="273.3" fill="#fff" font-style="italic" font-size="20">x</text>
<text x="156.5" y="343.8" fill="#fff" font-style="italic" font-size="20">z</text>
<text x="6.2" y="14" class="pl">a</text>
<text x="6.2" y="411" class="pl">b</text>
<text x="406.8" y="411.6" class="pl">c</text>
<path d="M82 418.2H350.5V785.6H82Z" fill="none" stroke="#1c1c1c" stroke-width="1.6"/>
<path d="M73.5 418.2H82M73.5 485H82M73.5 551.8H82M73.5 618.6H82M73.5 685.4H82M73.5 752.2H82M76.2 451.6H82M76.2 518.4H82M76.2 585.2H82M76.2 652H82M76.2 718.8H82M76.2 785.6H82M82 785.6V794.1M149.12 785.6V794.1M216.25 785.6V794.1M283.38 785.6V794.1M350.5 785.6V794.1M115.56 785.6V791.4M182.69 785.6V791.4M249.81 785.6V791.4M316.94 785.6V791.4" stroke="#1c1c1c" stroke-width="1.6" fill="none"/>
<text x="65" y="425.3" text-anchor="end" class="tk">4</text>
<text x="65" y="492.1" text-anchor="end" class="tk">2</text>
<text x="65" y="558.9" text-anchor="end" class="tk">0</text>
<text x="65" y="625.7" text-anchor="end" class="tk">2</text>
<rect x="42.81" y="617.8" width="8.2" height="1.8" fill="#1c1c1c"/>
<text x="65" y="692.5" text-anchor="end" class="tk">4</text>
<rect x="42.81" y="684.6" width="8.2" height="1.8" fill="#1c1c1c"/>
<text x="65" y="759.3" text-anchor="end" class="tk">6</text>
<rect x="42.81" y="751.4" width="8.2" height="1.8" fill="#1c1c1c"/>
<rect x="64.96" y="812.3" width="8.2" height="1.8" fill="#1c1c1c"/>
<text x="87.2" y="820.2" text-anchor="middle" class="tk">10</text>
<rect x="138.48" y="812.3" width="8.2" height="1.8" fill="#1c1c1c"/>
<text x="154.32" y="820.2" text-anchor="middle" class="tk">5</text>
<text x="216.25" y="820.2" text-anchor="middle" class="tk">0</text>
<text x="283.38" y="820.2" text-anchor="middle" class="tk">5</text>
<text x="350.5" y="820.2" text-anchor="middle" class="tk">10</text>
<polyline points="77.97,786.48 79.64,780.97 81.3,775.53 82.97,770.15 84.64,764.82 86.3,759.57 87.97,754.37 89.63,749.23 91.3,744.16 92.97,739.15 94.63,734.2 96.3,729.32 97.96,724.5 99.63,719.74 101.3,715.05 102.96,710.42 104.63,705.85 106.29,701.35 107.96,696.91 109.63,692.53 111.29,688.22 112.96,683.98 114.62,679.8 116.29,675.68 117.96,671.63 119.62,667.64 121.29,663.72 122.95,659.87 124.62,656.08 126.29,652.36 127.95,648.7 129.62,645.11 131.28,641.58 132.95,638.12 134.62,634.73 136.28,631.4 137.95,628.14 139.61,624.95 141.28,621.83 142.95,618.77 144.61,615.77 146.28,612.85 147.94,609.99 149.61,607.2 151.28,604.48 152.94,601.82 154.61,599.24 156.27,596.72 157.94,594.27 159.61,591.88 161.27,589.57 162.94,587.32 164.6,585.14 166.27,583.03 167.94,580.99 169.6,579.02 171.27,577.11 172.93,575.28 174.6,573.51 176.27,571.81 177.93,570.18 179.6,568.62 181.26,567.13 182.93,565.7 184.6,564.35 186.26,563.06 187.93,561.85 189.59,560.7 191.26,559.62 192.93,558.62 194.59,557.68 196.26,556.81 197.92,556.01 199.59,555.28 201.26,554.62 202.92,554.03 204.59,553.51 206.25,553.05 207.92,552.67 209.59,552.36 211.25,552.11 212.92,551.94 214.58,551.83 216.25,551.8 217.92,551.83 219.58,551.94 221.25,552.11 222.91,552.36 224.58,552.67 226.25,553.05 227.91,553.51 229.58,554.03 231.24,554.62 232.91,555.28 234.58,556.01 236.24,556.81 237.91,557.68 239.57,558.62 241.24,559.62 242.91,560.7 244.57,561.85 246.24,563.06 247.9,564.35 249.57,565.7 251.24,567.13 252.9,568.62 254.57,570.18 256.23,571.81 257.9,573.51 259.57,575.28 261.23,577.11 262.9,579.02 264.56,580.99 266.23,583.03 267.9,585.14 269.56,587.32 271.23,589.57 272.89,591.88 274.56,594.27 276.23,596.72 277.89,599.24 279.56,601.82 281.22,604.48 282.89,607.2 284.56,609.99 286.22,612.85 287.89,615.77 289.55,618.77 291.22,621.83 292.89,624.95 294.55,628.14 296.22,631.4 297.88,634.73 299.55,638.12 301.22,641.58 302.88,645.11 304.55,648.7 306.21,652.36 307.88,656.08 309.55,659.87 311.21,663.72 312.88,667.64 314.54,671.63 316.21,675.68 317.88,679.8 319.54,683.98 321.21,688.22 322.87,692.53 324.54,696.91 326.21,701.35 327.87,705.85 329.54,710.42 331.2,715.05 332.87,719.74 334.54,724.5 336.2,729.32 337.87,734.2 339.53,739.15 341.2,744.16 342.87,749.23 344.53,754.37 346.2,759.57 347.86,764.82 349.53,770.15 351.2,775.53 352.86,780.97 354.53,786.48" fill="none" stroke="#7a0a0a" stroke-width="4.6" stroke-linejoin="round" clip-path="url(#cb)"/>
<polyline points="77.97,670.39 79.64,667.58 81.3,664.8 82.97,662.06 84.64,659.34 86.3,656.66 87.97,654.02 89.63,651.4 91.3,648.82 92.97,646.27 94.63,643.76 96.3,641.28 97.96,638.83 99.63,636.41 101.3,634.03 102.96,631.68 104.63,629.36 106.29,627.08 107.96,624.83 109.63,622.62 111.29,620.43 112.96,618.29 114.62,616.17 116.29,614.09 117.96,612.04 119.62,610.03 121.29,608.05 122.95,606.1 124.62,604.19 126.29,602.31 127.95,600.46 129.62,598.65 131.28,596.87 132.95,595.13 134.62,593.42 136.28,591.75 137.95,590.1 139.61,588.5 141.28,586.92 142.95,585.39 144.61,583.88 146.28,582.41 147.94,580.97 149.61,579.57 151.28,578.2 152.94,576.87 154.61,575.57 156.27,574.31 157.94,573.07 159.61,571.88 161.27,570.72 162.94,569.59 164.6,568.5 166.27,567.44 167.94,566.41 169.6,565.43 171.27,564.47 172.93,563.55 174.6,562.66 176.27,561.81 177.93,561 179.6,560.22 181.26,559.47 182.93,558.76 184.6,558.08 186.26,557.43 187.93,556.83 189.59,556.25 191.26,555.71 192.93,555.21 194.59,554.74 196.26,554.31 197.92,553.91 199.59,553.54 201.26,553.21 202.92,552.91 204.59,552.65 206.25,552.43 207.92,552.24 209.59,552.08 211.25,551.96 212.92,551.87 214.58,551.82 216.25,551.8 217.92,551.82 219.58,551.87 221.25,551.96 222.91,552.08 224.58,552.24 226.25,552.43 227.91,552.65 229.58,552.91 231.24,553.21 232.91,553.54 234.58,553.91 236.24,554.31 237.91,554.74 239.57,555.21 241.24,555.71 242.91,556.25 244.57,556.83 246.24,557.43 247.9,558.08 249.57,558.76 251.24,559.47 252.9,560.22 254.57,561 256.23,561.81 257.9,562.66 259.57,563.55 261.23,564.47 262.9,565.43 264.56,566.41 266.23,567.44 267.9,568.5 269.56,569.59 271.23,570.72 272.89,571.88 274.56,573.07 276.23,574.31 277.89,575.57 279.56,576.87 281.22,578.2 282.89,579.57 284.56,580.97 286.22,582.41 287.89,583.88 289.55,585.39 291.22,586.92 292.89,588.5 294.55,590.1 296.22,591.75 297.88,593.42 299.55,595.13 301.22,596.87 302.88,598.65 304.55,600.46 306.21,602.31 307.88,604.19 309.55,606.1 311.21,608.05 312.88,610.03 314.54,612.04 316.21,614.09 317.88,616.17 319.54,618.29 321.21,620.43 322.87,622.62 324.54,624.83 326.21,627.08 327.87,629.36 329.54,631.68 331.2,634.03 332.87,636.41 334.54,638.83 336.2,641.28 337.87,643.76 339.53,646.27 341.2,648.82 342.87,651.4 344.53,654.02 346.2,656.66 347.86,659.34 349.53,662.06 351.2,664.8 352.86,667.58 354.53,670.39" fill="none" stroke="#f5901e" stroke-width="4.6" stroke-linejoin="round" clip-path="url(#cb)"/>
<polyline points="77.97,554.31 79.64,554.19 81.3,554.08 82.97,553.97 84.64,553.87 86.3,553.76 87.97,553.67 89.63,553.57 91.3,553.48 92.97,553.4 94.63,553.31 96.3,553.23 97.96,553.16 99.63,553.08 101.3,553.01 102.96,552.95 104.63,552.88 106.29,552.82 107.96,552.76 109.63,552.7 111.29,552.65 112.96,552.6 114.62,552.55 116.29,552.5 117.96,552.45 119.62,552.41 121.29,552.37 122.95,552.33 124.62,552.29 126.29,552.26 127.95,552.23 129.62,552.2 131.28,552.17 132.95,552.14 134.62,552.11 136.28,552.09 137.95,552.07 139.61,552.04 141.28,552.02 142.95,552 144.61,551.99 146.28,551.97 147.94,551.95 149.61,551.94 151.28,551.93 152.94,551.91 154.61,551.9 156.27,551.89 157.94,551.88 159.61,551.87 161.27,551.86 162.94,551.86 164.6,551.85 166.27,551.84 167.94,551.84 169.6,551.83 171.27,551.83 172.93,551.83 174.6,551.82 176.27,551.82 177.93,551.82 179.6,551.81 181.26,551.81 182.93,551.81 184.6,551.81 186.26,551.81 187.93,551.8 189.59,551.8 191.26,551.8 192.93,551.8 194.59,551.8 196.26,551.8 197.92,551.8 199.59,551.8 201.26,551.8 202.92,551.8 204.59,551.8 206.25,551.8 207.92,551.8 209.59,551.8 211.25,551.8 212.92,551.8 214.58,551.8 216.25,551.8 217.92,551.8 219.58,551.8 221.25,551.8 222.91,551.8 224.58,551.8 226.25,551.8 227.91,551.8 229.58,551.8 231.24,551.8 232.91,551.8 234.58,551.8 236.24,551.8 237.91,551.8 239.57,551.8 241.24,551.8 242.91,551.8 244.57,551.8 246.24,551.81 247.9,551.81 249.57,551.81 251.24,551.81 252.9,551.81 254.57,551.82 256.23,551.82 257.9,551.82 259.57,551.83 261.23,551.83 262.9,551.83 264.56,551.84 266.23,551.84 267.9,551.85 269.56,551.86 271.23,551.86 272.89,551.87 274.56,551.88 276.23,551.89 277.89,551.9 279.56,551.91 281.22,551.93 282.89,551.94 284.56,551.95 286.22,551.97 287.89,551.99 289.55,552 291.22,552.02 292.89,552.04 294.55,552.07 296.22,552.09 297.88,552.11 299.55,552.14 301.22,552.17 302.88,552.2 304.55,552.23 306.21,552.26 307.88,552.29 309.55,552.33 311.21,552.37 312.88,552.41 314.54,552.45 316.21,552.5 317.88,552.55 319.54,552.6 321.21,552.65 322.87,552.7 324.54,552.76 326.21,552.82 327.87,552.88 329.54,552.95 331.2,553.01 332.87,553.08 334.54,553.16 336.2,553.23 337.87,553.31 339.53,553.4 341.2,553.48 342.87,553.57 344.53,553.67 346.2,553.76 347.86,553.87 349.53,553.97 351.2,554.08 352.86,554.19 354.53,554.31" fill="none" stroke="#107a1a" stroke-width="4.6" stroke-linejoin="round" clip-path="url(#cb)"/>
<polyline points="77.97,438.22 79.64,440.8 81.3,443.35 82.97,445.88 84.64,448.39 86.3,450.86 87.97,453.32 89.63,455.74 91.3,458.15 92.97,460.52 94.63,462.87 96.3,465.19 97.96,467.49 99.63,469.76 101.3,472 102.96,474.21 104.63,476.4 106.29,478.55 107.96,480.68 109.63,482.79 111.29,484.86 112.96,486.9 114.62,488.92 116.29,490.91 117.96,492.87 119.62,494.79 121.29,496.69 122.95,498.56 124.62,500.4 126.29,502.21 127.95,503.99 129.62,505.74 131.28,507.46 132.95,509.15 134.62,510.8 136.28,512.43 137.95,514.03 139.61,515.59 141.28,517.12 142.95,518.62 144.61,520.09 146.28,521.53 147.94,522.94 149.61,524.31 151.28,525.65 152.94,526.96 154.61,528.23 156.27,529.48 157.94,530.69 159.61,531.87 161.27,533.01 162.94,534.13 164.6,535.2 166.27,536.25 167.94,537.26 169.6,538.24 171.27,539.19 172.93,540.1 174.6,540.98 176.27,541.82 177.93,542.63 179.6,543.41 181.26,544.15 182.93,544.86 184.6,545.54 186.26,546.18 187.93,546.78 189.59,547.35 191.26,547.89 192.93,548.39 194.59,548.86 196.26,549.3 197.92,549.7 199.59,550.06 201.26,550.39 202.92,550.69 204.59,550.95 206.25,551.17 207.92,551.37 209.59,551.52 211.25,551.64 212.92,551.73 214.58,551.78 216.25,551.8 217.92,551.78 219.58,551.73 221.25,551.64 222.91,551.52 224.58,551.37 226.25,551.17 227.91,550.95 229.58,550.69 231.24,550.39 232.91,550.06 234.58,549.7 236.24,549.3 237.91,548.86 239.57,548.39 241.24,547.89 242.91,547.35 244.57,546.78 246.24,546.18 247.9,545.54 249.57,544.86 251.24,544.15 252.9,543.41 254.57,542.63 256.23,541.82 257.9,540.98 259.57,540.1 261.23,539.19 262.9,538.24 264.56,537.26 266.23,536.25 267.9,535.2 269.56,534.13 271.23,533.01 272.89,531.87 274.56,530.69 276.23,529.48 277.89,528.23 279.56,526.96 281.22,525.65 282.89,524.31 284.56,522.94 286.22,521.53 287.89,520.09 289.55,518.62 291.22,517.12 292.89,515.59 294.55,514.03 296.22,512.43 297.88,510.8 299.55,509.15 301.22,507.46 302.88,505.74 304.55,503.99 306.21,502.21 307.88,500.4 309.55,498.56 311.21,496.69 312.88,494.79 314.54,492.87 316.21,490.91 317.88,488.92 319.54,486.9 321.21,484.86 322.87,482.79 324.54,480.68 326.21,478.55 327.87,476.4 329.54,474.21 331.2,472 332.87,469.76 334.54,467.49 336.2,465.19 337.87,462.87 339.53,460.52 341.2,458.15 342.87,455.74 344.53,453.32 346.2,450.86 347.86,448.39 349.53,445.88 351.2,443.35 352.86,440.8 354.53,438.22" fill="none" stroke="#1010e0" stroke-width="4.6" stroke-linejoin="round" clip-path="url(#cb)"/>
<rect x="117.8" y="684.7" width="24.5" height="8.6" fill="#1010e0"/>
<text x="150.5" y="694" class="lg"><tspan font-style="italic">n</tspan></text>
<text x="167" y="694" class="lg" textLength="31" lengthAdjust="spacingAndGlyphs">= 2</text>
<rect x="117.8" y="711.5" width="24.5" height="8.6" fill="#107a1a"/>
<text x="150.5" y="720.6" class="lg"><tspan font-style="italic">n</tspan></text>
<text x="167" y="720.6" class="lg" textLength="147.5" lengthAdjust="spacingAndGlyphs">= 1 (diffractive)</text>
<rect x="117.8" y="738.7" width="24.5" height="8.6" fill="#f5901e"/>
<text x="150.5" y="747.2" class="lg"><tspan font-style="italic">n</tspan></text>
<text x="167" y="747.2" class="lg" textLength="165" lengthAdjust="spacingAndGlyphs">= 0 (achromatic)</text>
<rect x="117.8" y="766.8" width="24.5" height="8.6" fill="#7a0a0a"/>
<text x="150.5" y="775.8" class="lg"><tspan font-style="italic">n</tspan></text>
<text x="167" y="775.8" class="lg">=</text>
<rect x="187.3" y="768.85" width="7.2" height="1.7" fill="#1c1c1c"/>
<text x="195.3" y="775.8" class="lg">1</text>
<text x="106" y="854" class="al" textLength="220" lengthAdjust="spacingAndGlyphs">Radial coordinate (&#956;m)</text>
<text transform="translate(25.8 681) rotate(-90)" class="al" textLength="157.5" lengthAdjust="spacingAndGlyphs">Group delay (fs)</text>
<path d="M512 420.1H781.25V787H512Z" fill="none" stroke="#1c1c1c" stroke-width="1.6"/>
<path d="M509.5 420.1H512" stroke="#1c1c1c" stroke-width="1.6"/>
<path d="M503.5 460.5H512M503.5 542.13H512M503.5 623.75H512M503.5 705.38H512M503.5 787H512M506.2 501.32H512M506.2 582.94H512M506.2 664.56H512M506.2 746.19H512M512 787V795.5M579.31 787V795.5M646.62 787V795.5M713.94 787V795.5M781.25 787V795.5M545.66 787V792.8M612.97 787V792.8M680.28 787V792.8M747.59 787V792.8" stroke="#1c1c1c" stroke-width="1.6" fill="none"/>
<text x="495.5" y="467.6" text-anchor="end" class="tk">0.0</text>
<text x="495.5" y="549.23" text-anchor="end" class="tk">0.5</text>
<rect x="454.13" y="541.33" width="8.2" height="1.8" fill="#1c1c1c"/>
<text x="495.5" y="630.85" text-anchor="end" class="tk">1.0</text>
<rect x="454.13" y="622.95" width="8.2" height="1.8" fill="#1c1c1c"/>
<text x="495.5" y="712.48" text-anchor="end" class="tk">1.5</text>
<rect x="454.13" y="704.58" width="8.2" height="1.8" fill="#1c1c1c"/>
<text x="495.5" y="794.1" text-anchor="end" class="tk">2.0</text>
<rect x="454.13" y="786.2" width="8.2" height="1.8" fill="#1c1c1c"/>
<rect x="494.96" y="812.3" width="8.2" height="1.8" fill="#1c1c1c"/>
<text x="517.2" y="820.2" text-anchor="middle" class="tk">10</text>
<rect x="568.67" y="812.3" width="8.2" height="1.8" fill="#1c1c1c"/>
<text x="584.51" y="820.2" text-anchor="middle" class="tk">5</text>
<text x="646.62" y="820.2" text-anchor="middle" class="tk">0</text>
<text x="713.94" y="820.2" text-anchor="middle" class="tk">5</text>
<text x="781.25" y="820.2" text-anchor="middle" class="tk">10</text>
<polyline points="507.96,767.41 509.63,760.51 511.3,753.67 512.97,746.9 514.64,740.19 516.31,733.55 517.99,726.97 519.66,720.46 521.33,714.01 523,707.64 524.67,701.33 526.34,695.09 528.01,688.92 529.68,682.82 531.35,676.79 533.02,670.83 534.69,664.94 536.36,659.13 538.03,653.39 539.7,647.72 541.37,642.13 543.04,636.62 544.72,631.18 546.39,625.81 548.06,620.52 549.73,615.31 551.4,610.18 553.07,605.13 554.74,600.15 556.41,595.26 558.08,590.44 559.75,585.71 561.42,581.06 563.09,576.48 564.76,571.99 566.43,567.59 568.1,563.26 569.78,559.02 571.45,554.87 573.12,550.8 574.79,546.81 576.46,542.91 578.13,539.09 579.8,535.36 581.47,531.72 583.14,528.16 584.81,524.69 586.48,521.31 588.15,518.02 589.82,514.81 591.49,511.7 593.16,508.67 594.83,505.74 596.51,502.89 598.18,500.13 599.85,497.47 601.52,494.89 603.19,492.41 604.86,490.02 606.53,487.71 608.2,485.51 609.87,483.39 611.54,481.36 613.21,479.43 614.88,477.59 616.55,475.85 618.22,474.19 619.89,472.63 621.57,471.17 623.24,469.8 624.91,468.52 626.58,467.33 628.25,466.24 629.92,465.25 631.59,464.35 633.26,463.54 634.93,462.83 636.6,462.21 638.27,461.69 639.94,461.26 641.61,460.93 643.28,460.69 644.95,460.55 646.62,460.5 648.3,460.55 649.97,460.69 651.64,460.93 653.31,461.26 654.98,461.69 656.65,462.21 658.32,462.83 659.99,463.54 661.66,464.35 663.33,465.25 665,466.24 666.67,467.33 668.34,468.52 670.01,469.8 671.68,471.17 673.36,472.63 675.03,474.19 676.7,475.85 678.37,477.59 680.04,479.43 681.71,481.36 683.38,483.39 685.05,485.51 686.72,487.71 688.39,490.02 690.06,492.41 691.73,494.89 693.4,497.47 695.07,500.13 696.74,502.89 698.42,505.74 700.09,508.67 701.76,511.7 703.43,514.81 705.1,518.02 706.77,521.31 708.44,524.69 710.11,528.16 711.78,531.72 713.45,535.36 715.12,539.09 716.79,542.91 718.46,546.81 720.13,550.8 721.8,554.87 723.47,559.02 725.15,563.26 726.82,567.59 728.49,571.99 730.16,576.48 731.83,581.06 733.5,585.71 735.17,590.44 736.84,595.26 738.51,600.15 740.18,605.13 741.85,610.18 743.52,615.31 745.19,620.52 746.86,625.81 748.53,631.18 750.21,636.62 751.88,642.13 753.55,647.72 755.22,653.39 756.89,659.13 758.56,664.94 760.23,670.83 761.9,676.79 763.57,682.82 765.24,688.92 766.91,695.09 768.58,701.33 770.25,707.64 771.92,714.01 773.59,720.46 775.26,726.97 776.94,733.55 778.61,740.19 780.28,746.9 781.95,753.67 783.62,760.51 785.29,767.41" fill="none" stroke="#7a0a0a" stroke-width="4.6" stroke-linejoin="round" clip-path="url(#cc)"/>
<polyline points="507.96,460.5 509.63,460.5 511.3,460.5 512.97,460.5 514.64,460.5 516.31,460.5 517.99,460.5 519.66,460.5 521.33,460.5 523,460.5 524.67,460.5 526.34,460.5 528.01,460.5 529.68,460.5 531.35,460.5 533.02,460.5 534.69,460.5 536.36,460.5 538.03,460.5 539.7,460.5 541.37,460.5 543.04,460.5 544.72,460.5 546.39,460.5 548.06,460.5 549.73,460.5 551.4,460.5 553.07,460.5 554.74,460.5 556.41,460.5 558.08,460.5 559.75,460.5 561.42,460.5 563.09,460.5 564.76,460.5 566.43,460.5 568.1,460.5 569.78,460.5 571.45,460.5 573.12,460.5 574.79,460.5 576.46,460.5 578.13,460.5 579.8,460.5 581.47,460.5 583.14,460.5 584.81,460.5 586.48,460.5 588.15,460.5 589.82,460.5 591.49,460.5 593.16,460.5 594.83,460.5 596.51,460.5 598.18,460.5 599.85,460.5 601.52,460.5 603.19,460.5 604.86,460.5 606.53,460.5 608.2,460.5 609.87,460.5 611.54,460.5 613.21,460.5 614.88,460.5 616.55,460.5 618.22,460.5 619.89,460.5 621.57,460.5 623.24,460.5 624.91,460.5 626.58,460.5 628.25,460.5 629.92,460.5 631.59,460.5 633.26,460.5 634.93,460.5 636.6,460.5 638.27,460.5 639.94,460.5 641.61,460.5 643.28,460.5 644.95,460.5 646.62,460.5 648.3,460.5 649.97,460.5 651.64,460.5 653.31,460.5 654.98,460.5 656.65,460.5 658.32,460.5 659.99,460.5 661.66,460.5 663.33,460.5 665,460.5 666.67,460.5 668.34,460.5 670.01,460.5 671.68,460.5 673.36,460.5 675.03,460.5 676.7,460.5 678.37,460.5 680.04,460.5 681.71,460.5 683.38,460.5 685.05,460.5 686.72,460.5 688.39,460.5 690.06,460.5 691.73,460.5 693.4,460.5 695.07,460.5 696.74,460.5 698.42,460.5 700.09,460.5 701.76,460.5 703.43,460.5 705.1,460.5 706.77,460.5 708.44,460.5 710.11,460.5 711.78,460.5 713.45,460.5 715.12,460.5 716.79,460.5 718.46,460.5 720.13,460.5 721.8,460.5 723.47,460.5 725.15,460.5 726.82,460.5 728.49,460.5 730.16,460.5 731.83,460.5 733.5,460.5 735.17,460.5 736.84,460.5 738.51,460.5 740.18,460.5 741.85,460.5 743.52,460.5 745.19,460.5 746.86,460.5 748.53,460.5 750.21,460.5 751.88,460.5 753.55,460.5 755.22,460.5 756.89,460.5 758.56,460.5 760.23,460.5 761.9,460.5 763.57,460.5 765.24,460.5 766.91,460.5 768.58,460.5 770.25,460.5 771.92,460.5 773.59,460.5 775.26,460.5 776.94,460.5 778.61,460.5 780.28,460.5 781.95,460.5 783.62,460.5 785.29,460.5" fill="none" stroke="#f5901e" stroke-width="4.6" stroke-linejoin="round" clip-path="url(#cc)"/>
<polyline points="507.96,450.53 509.63,450.98 511.3,451.43 512.97,451.85 514.64,452.26 516.31,452.66 517.99,453.04 519.66,453.41 521.33,453.77 523,454.11 524.67,454.44 526.34,454.76 528.01,455.06 529.68,455.35 531.35,455.63 533.02,455.9 534.69,456.16 536.36,456.41 538.03,456.65 539.7,456.88 541.37,457.09 543.04,457.3 544.72,457.5 546.39,457.69 548.06,457.87 549.73,458.04 551.4,458.2 553.07,458.36 554.74,458.5 556.41,458.64 558.08,458.77 559.75,458.9 561.42,459.02 563.09,459.13 564.76,459.24 566.43,459.33 568.1,459.43 569.78,459.52 571.45,459.6 573.12,459.67 574.79,459.75 576.46,459.81 578.13,459.88 579.8,459.94 581.47,459.99 583.14,460.04 584.81,460.09 586.48,460.13 588.15,460.17 589.82,460.21 591.49,460.24 593.16,460.27 594.83,460.3 596.51,460.32 598.18,460.35 599.85,460.37 601.52,460.38 603.19,460.4 604.86,460.42 606.53,460.43 608.2,460.44 609.87,460.45 611.54,460.46 613.21,460.47 614.88,460.47 616.55,460.48 618.22,460.49 619.89,460.49 621.57,460.49 623.24,460.5 624.91,460.5 626.58,460.5 628.25,460.5 629.92,460.5 631.59,460.5 633.26,460.5 634.93,460.5 636.6,460.5 638.27,460.5 639.94,460.5 641.61,460.5 643.28,460.5 644.95,460.5 646.62,460.5 648.3,460.5 649.97,460.5 651.64,460.5 653.31,460.5 654.98,460.5 656.65,460.5 658.32,460.5 659.99,460.5 661.66,460.5 663.33,460.5 665,460.5 666.67,460.5 668.34,460.5 670.01,460.5 671.68,460.49 673.36,460.49 675.03,460.49 676.7,460.48 678.37,460.47 680.04,460.47 681.71,460.46 683.38,460.45 685.05,460.44 686.72,460.43 688.39,460.42 690.06,460.4 691.73,460.38 693.4,460.37 695.07,460.35 696.74,460.32 698.42,460.3 700.09,460.27 701.76,460.24 703.43,460.21 705.1,460.17 706.77,460.13 708.44,460.09 710.11,460.04 711.78,459.99 713.45,459.94 715.12,459.88 716.79,459.81 718.46,459.75 720.13,459.67 721.8,459.6 723.47,459.52 725.15,459.43 726.82,459.33 728.49,459.24 730.16,459.13 731.83,459.02 733.5,458.9 735.17,458.77 736.84,458.64 738.51,458.5 740.18,458.36 741.85,458.2 743.52,458.04 745.19,457.87 746.86,457.69 748.53,457.5 750.21,457.3 751.88,457.09 753.55,456.88 755.22,456.65 756.89,456.41 758.56,456.16 760.23,455.9 761.9,455.63 763.57,455.35 765.24,455.06 766.91,454.76 768.58,454.44 770.25,454.11 771.92,453.77 773.59,453.41 775.26,453.04 776.94,452.66 778.61,452.26 780.28,451.85 781.95,451.43 783.62,450.98 785.29,450.53" fill="none" stroke="#107a1a" stroke-width="4.6" stroke-linejoin="round" clip-path="url(#cc)"/>
<polyline points="507.96,737.49 509.63,731.95 511.3,726.44 512.97,720.94 514.64,715.47 516.31,710.02 517.99,704.59 519.66,699.18 521.33,693.8 523,688.45 524.67,683.13 526.34,677.84 528.01,672.59 529.68,667.37 531.35,662.18 533.02,657.03 534.69,651.92 536.36,646.85 538.03,641.82 539.7,636.84 541.37,631.9 543.04,627 544.72,622.16 546.39,617.36 548.06,612.61 549.73,607.92 551.4,603.27 553.07,598.68 554.74,594.15 556.41,589.67 558.08,585.26 559.75,580.9 561.42,576.6 563.09,572.36 564.76,568.19 566.43,564.08 568.1,560.04 569.78,556.06 571.45,552.15 573.12,548.31 574.79,544.54 576.46,540.84 578.13,537.21 579.8,533.66 581.47,530.18 583.14,526.77 584.81,523.44 586.48,520.19 588.15,517.02 589.82,513.92 591.49,510.91 593.16,507.97 594.83,505.12 596.51,502.35 598.18,499.66 599.85,497.05 601.52,494.53 603.19,492.1 604.86,489.75 606.53,487.49 608.2,485.32 609.87,483.23 611.54,481.23 613.21,479.32 614.88,477.5 616.55,475.78 618.22,474.14 619.89,472.59 621.57,471.13 623.24,469.77 624.91,468.5 626.58,467.32 628.25,466.23 629.92,465.24 631.59,464.34 633.26,463.54 634.93,462.83 636.6,462.21 638.27,461.69 639.94,461.26 641.61,460.93 643.28,460.69 644.95,460.55 646.62,460.5 648.3,460.55 649.97,460.69 651.64,460.93 653.31,461.26 654.98,461.69 656.65,462.21 658.32,462.83 659.99,463.54 661.66,464.34 663.33,465.24 665,466.23 666.67,467.32 668.34,468.5 670.01,469.77 671.68,471.13 673.36,472.59 675.03,474.14 676.7,475.78 678.37,477.5 680.04,479.32 681.71,481.23 683.38,483.23 685.05,485.32 686.72,487.49 688.39,489.75 690.06,492.1 691.73,494.53 693.4,497.05 695.07,499.66 696.74,502.35 698.42,505.12 700.09,507.97 701.76,510.91 703.43,513.92 705.1,517.02 706.77,520.19 708.44,523.44 710.11,526.77 711.78,530.18 713.45,533.66 715.12,537.21 716.79,540.84 718.46,544.54 720.13,548.31 721.8,552.15 723.47,556.06 725.15,560.04 726.82,564.08 728.49,568.19 730.16,572.36 731.83,576.6 733.5,580.9 735.17,585.26 736.84,589.67 738.51,594.15 740.18,598.68 741.85,603.27 743.52,607.92 745.19,612.61 746.86,617.36 748.53,622.16 750.21,627 751.88,631.9 753.55,636.84 755.22,641.82 756.89,646.85 758.56,651.92 760.23,657.03 761.9,662.18 763.57,667.37 765.24,672.59 766.91,677.84 768.58,683.13 770.25,688.45 771.92,693.8 773.59,699.18 775.26,704.59 776.94,710.02 778.61,715.47 780.28,720.94 781.95,726.44 783.62,731.95 785.29,737.49" fill="none" stroke="#1010e0" stroke-width="4.6" stroke-linejoin="round" clip-path="url(#cc)"/>
<rect x="544" y="680.7" width="24.5" height="8.6" fill="#1010e0"/>
<text x="577" y="690.5" class="lg"><tspan font-style="italic">n</tspan></text>
<text x="593.5" y="690.5" class="lg" textLength="31" lengthAdjust="spacingAndGlyphs">= 2</text>
<rect x="544" y="707.5" width="24.5" height="8.6" fill="#107a1a"/>
<text x="577" y="716.2" class="lg"><tspan font-style="italic">n</tspan></text>
<text x="593.5" y="716.2" class="lg" textLength="147.5" lengthAdjust="spacingAndGlyphs">= 1 (diffractive)</text>
<rect x="544" y="734.4" width="24.5" height="8.6" fill="#f5901e"/>
<text x="577" y="743.4" class="lg"><tspan font-style="italic">n</tspan></text>
<text x="593.5" y="743.4" class="lg" textLength="165" lengthAdjust="spacingAndGlyphs">= 0 (achromatic)</text>
<rect x="544" y="762.7" width="24.5" height="8.6" fill="#7a0a0a"/>
<text x="577" y="772.2" class="lg"><tspan font-style="italic">n</tspan></text>
<text x="593.5" y="772.2" class="lg">=</text>
<rect x="613.8" y="765.25" width="7.2" height="1.7" fill="#1c1c1c"/>
<text x="621.8" y="772.2" class="lg">1</text>
<text x="534.5" y="854" class="al" textLength="220.5" lengthAdjust="spacingAndGlyphs">Radial coordinate (&#956;m)</text>
<text transform="translate(437.1 727.5) rotate(-90)" class="al"><tspan textLength="241.5" lengthAdjust="spacingAndGlyphs">Group delay dispersion (fs</tspan><tspan font-size="16.5" dy="-9" dx="0.5">2</tspan><tspan dy="9" dx="0.8">)</tspan></text>
</svg></body></html>
